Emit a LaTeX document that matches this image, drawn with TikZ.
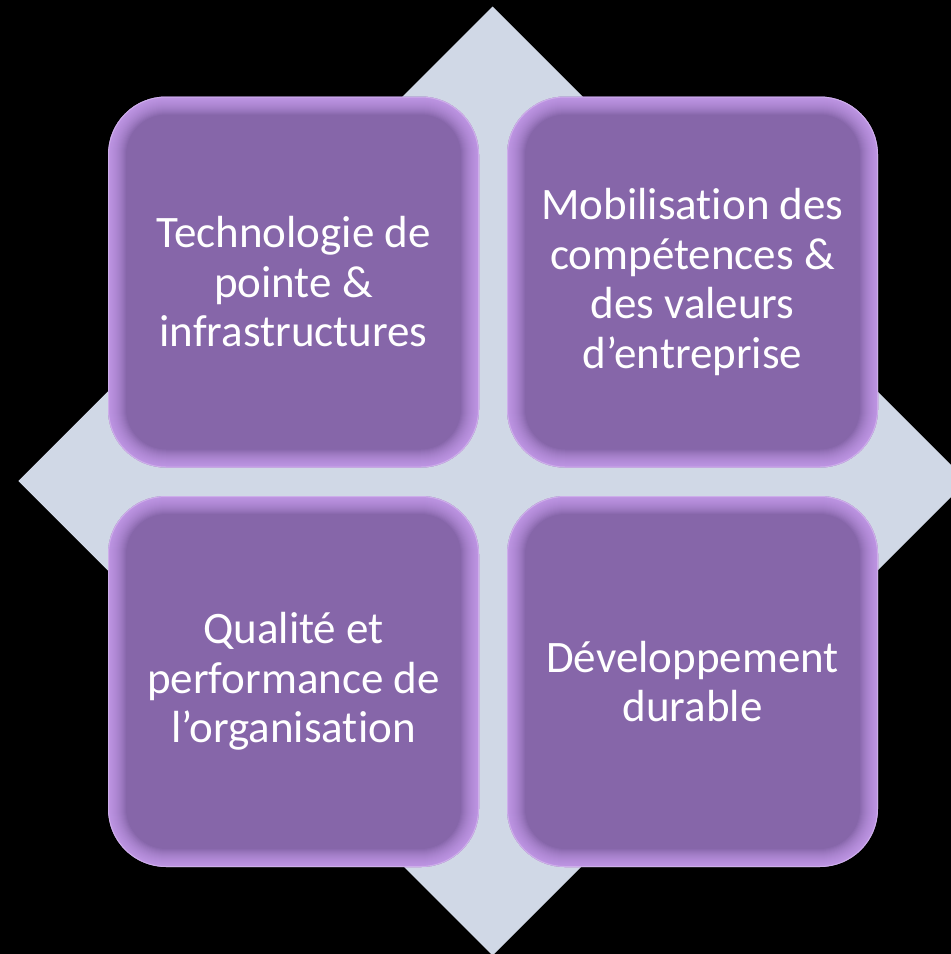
\documentclass[tikz,border=0pt]{standalone}
\usepackage{fontspec}
\setmainfont{Carlito}[Ligatures=NoCommon]
\definecolor{bgdiamond}{HTML}{D0D8E6}
\definecolor{boxfill}{HTML}{8666A9}
\definecolor{glowc}{HTML}{D8ACFF}
\tikzset{
  quad/.style={draw=none, fill=boxfill, rounded corners=58pt,
    minimum width=371pt, minimum height=371pt, inner sep=0pt,
    text=white, align=center,
    font=\fontsize{45}{49.5}\selectfont,
    path picture={
      \foreach \i in {1,...,18}{
        \draw[glowc, line width=2*\i pt, opacity=0.07, rounded corners=58pt]
          (path picture bounding box.south west) rectangle (path picture bounding box.north east);
      }
      \draw[white, line width=2pt, opacity=0.25, rounded corners=58pt]
          (path picture bounding box.south west) rectangle (path picture bounding box.north east);
    }}
}
\begin{document}
\begin{tikzpicture}[x=1pt,y=-1pt]
\useasboundingbox (0,0) rectangle (951,954);
\clip (0,0) rectangle (951,954);
\fill[black] (0,0) rectangle (951,954);
\fill[bgdiamond] (492.7,6.5) -- (967,481) -- (492.7,955.5) -- (18.3,481) -- cycle;
\node[quad] (tl) at (293.5,282) {Technologie de\\pointe \&\\infrastructures};
\node[quad] (tr) at (692.5,282) {Mobilisation des\\compétences \&\\des valeurs\\d’entreprise};
\node[quad] (bl) at (293.5,681.5) {Qualité et\\performance de\\l’organisation};
\node[quad] (br) at (692.5,681.5) {Développement\\durable};
\end{tikzpicture}
\end{document}
